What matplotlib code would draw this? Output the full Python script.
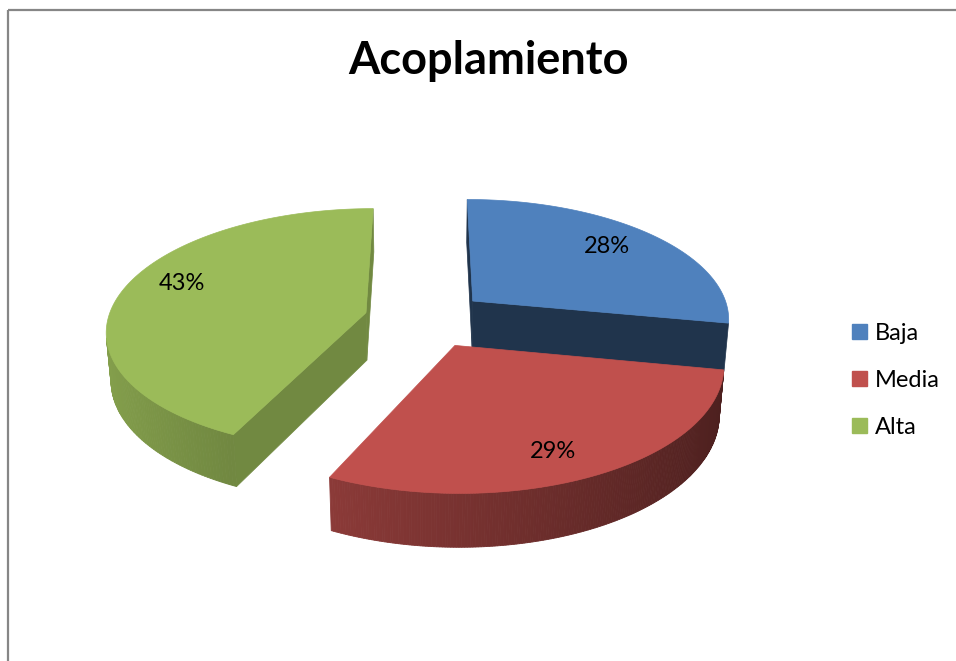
import numpy as np
import matplotlib
matplotlib.use("Agg")
import matplotlib.pyplot as plt
from matplotlib.patches import Polygon, Patch
from matplotlib.colors import to_rgb

# datos del gráfico
title = "Acoplamiento"
labels = ["Baja", "Media", "Alta"]
values = [28, 29, 43]
colors = ["#4F81BD", "#C0504D", "#9BBB59"]
side_shade = [0.40, 0.55, 0.73]  # sombra de las caras radiales
label_dx = [0, -5, -2]  # ajuste de las etiquetas (px)
label_dy = [-3, 12, -10]

plt.rcParams['font.family'] = ['Lato', 'DejaVu Sans']

# parámetros de la vista 3D (en píxeles de la figura)
tilt = np.radians(27.7)
dist = 6.5
depth_h = 0.212
explode = 0.24
scale = 258
cx, cy = 426, 319
cam = np.array([0.0, -dist * np.cos(tilt), dist * np.sin(tilt)])


def project(x, y, z):
    yc = y * np.sin(tilt) + z * np.cos(tilt)
    d = y * np.cos(tilt) - z * np.sin(tilt)
    f = dist / (dist + d)
    return cx + scale * x * f, cy - scale * yc * f


def shade(col, k):
    r, g, b = to_rgb(col)
    return (r * k, g * k, b * k)


def visible(normal, point):
    return np.dot(normal, cam - np.asarray(point)) > 0


fig = plt.figure(figsize=(9.56, 6.61), dpi=100)
ax = fig.add_axes([0, 0, 1, 1])
ax.set_xlim(0, 956)
ax.set_ylim(661, 0)
ax.axis('off')

# borde del área del gráfico
ax.plot([8, 956], [10, 10], color='#868686', lw=1.6, solid_capstyle='butt')
ax.plot([8, 8], [10, 661], color='#868686', lw=1.6, solid_capstyle='butt')

total = sum(values)
slices = []
start = 90.0
for i, v in enumerate(values):
    sweep = 360.0 * v / total
    t_hi = np.radians(start)
    t_lo = np.radians(start - sweep)
    mid = (t_hi + t_lo) / 2
    ox, oy = explode * np.cos(mid), explode * np.sin(mid)
    slices.append((i, t_lo, t_hi, mid, ox, oy))
    start -= sweep

# dibujar de atrás hacia delante
for i, t_lo, t_hi, mid, ox, oy in sorted(slices, key=lambda s: -s[5]):
    col = colors[i]
    h = -depth_h

    def rim(t, z):
        return project(ox + np.cos(t), oy + np.sin(t), z)

    c_top = project(ox, oy, 0)
    c_bot = project(ox, oy, h)

    # caras radiales
    for t, n in [(t_lo, (np.sin(t_lo), -np.cos(t_lo), 0)),
                 (t_hi, (-np.sin(t_hi), np.cos(t_hi), 0))]:
        if visible(n, (ox, oy, 0)):
            poly = [c_top, rim(t, 0), rim(t, h), c_bot]
            fc = shade(col, side_shade[i])
            ax.add_patch(Polygon(poly, closed=True, fc=fc, ec=fc, lw=0.5))

    # pared exterior con degradado
    ts = np.linspace(t_lo, t_hi, 200)
    for t1, t2 in zip(ts[:-1], ts[1:]):
        tm = (t1 + t2) / 2
        p = (ox + np.cos(tm), oy + np.sin(tm), 0)
        if not visible((np.cos(tm), np.sin(tm), 0), p):
            continue
        k = 0.627 + 0.231 * (-np.cos(tm))
        fc = shade(col, k)
        poly = [rim(t1, 0), rim(t2, 0), rim(t2, h), rim(t1, h)]
        ax.add_patch(Polygon(poly, closed=True, fc=fc, ec=fc, lw=0.6))

    # cara superior
    arc = [rim(t, 0) for t in np.linspace(t_hi, t_lo, 120)]
    ax.add_patch(Polygon([c_top] + arc, closed=True, fc=col, ec=col, lw=0.5))

    # etiqueta de porcentaje
    lx, ly = project(ox + 0.75 * np.cos(mid), oy + 0.75 * np.sin(mid), 0)
    ax.text(lx + label_dx[i], ly + label_dy[i],
            f"{round(100 * values[i] / total)}%",
            ha='center', va='center', fontsize=17, color='black')

ax.text(489, 74, title, ha='center', va='baseline', fontsize=32.5,
        fontweight='bold', color='black')

handles = [Patch(facecolor=c, edgecolor=c) for c in colors]
fig.legend(handles, labels, loc='center left', bbox_to_anchor=(0.869, 0.4246),
           frameon=False, fontsize=17, handlelength=0.64, handleheight=0.64,
           handletextpad=0.34, labelspacing=1.1)

fig.savefig("out.png", dpi=100)
